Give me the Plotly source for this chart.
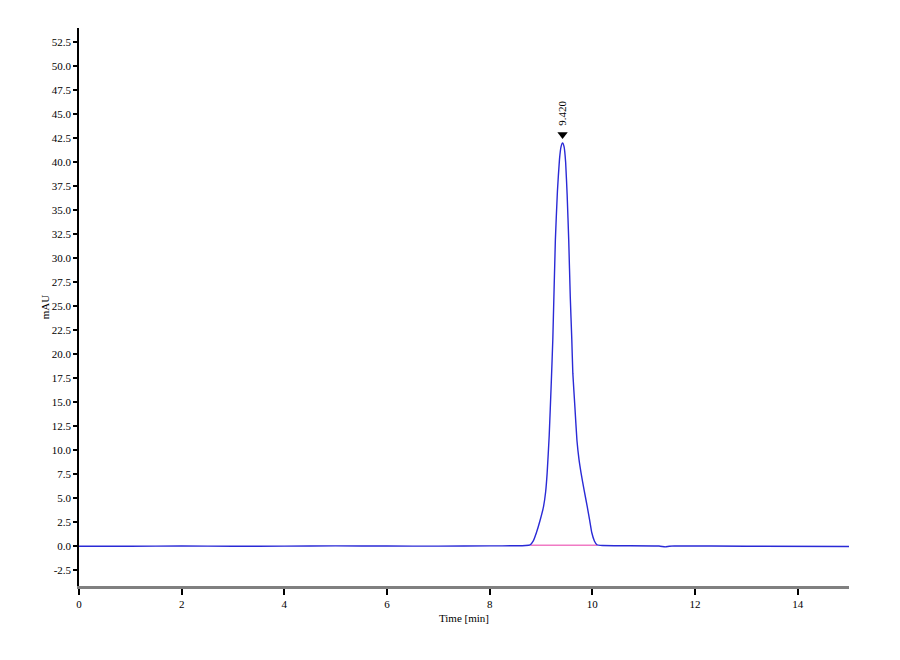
import plotly.graph_objects as go

# Chromatogram trace (time in min, signal in mAU)
time_min = [0.0, 1.0, 2.0, 3.0, 4.0, 5.0, 6.0, 7.0, 8.0, 8.5, 8.70, 8.79, 8.85, 8.91, 8.98,
            9.05, 9.09, 9.12, 9.16, 9.20, 9.23, 9.28, 9.32, 9.36, 9.39, 9.42,
            9.45, 9.48, 9.51, 9.54, 9.57, 9.60, 9.62, 9.66, 9.70, 9.74, 9.78, 9.84,
            9.90, 9.95, 9.99, 10.04, 10.09, 10.2, 11.3, 11.42, 11.5, 11.6, 13.0, 15.0]
signal_mau = [-0.05, -0.05, -0.03, -0.05, -0.04, -0.02, -0.03, -0.04, -0.02, 0.0, 0.03, 0.1, 0.5, 1.35, 2.6,
              4.1, 5.6, 7.6, 11.5, 17.0, 21.5, 31.9, 37.0, 40.3, 41.6, 42.0,
              41.6, 40.0, 36.5, 31.9, 26.0, 21.5, 18.0, 14.5, 11.0, 9.0, 7.6, 5.8,
              4.1, 2.6, 1.35, 0.5, 0.1, 0.02, -0.03, -0.12, -0.05, -0.02, -0.05, -0.08]

# Integration baseline under the peak
baseline_t = [8.8, 10.1]
baseline_y = [0.05, 0.05]

peak_time = 9.42
peak_height = 42.0
peak_label = "9.420"

y_ticks = [-2.5 + 2.5 * i for i in range(23)]
x_ticks = [0, 2, 4, 6, 8, 10, 12, 14]

font_family = "Liberation Serif, Times New Roman, serif"

fig = go.Figure()
fig.add_trace(go.Scatter(x=baseline_t, y=baseline_y, mode="lines",
                         line=dict(color="#f07ac4", width=1.5), hoverinfo="skip"))
fig.add_trace(go.Scatter(x=time_min, y=signal_mau, mode="lines",
                         line=dict(color="#2a2ad6", width=1.4, shape="spline", smoothing=0.4)))
fig.add_trace(go.Scatter(x=[peak_time], y=[peak_height + 0.9], mode="markers",
                         marker=dict(symbol="triangle-down", size=9, color="black")))
fig.add_annotation(x=peak_time, y=peak_height + 1.6, text=peak_label, showarrow=False,
                   textangle=-90, yanchor="bottom", xanchor="center",
                   font=dict(family=font_family, size=11, color="black"))

fig.update_layout(
    width=900, height=660,
    margin=dict(l=71, r=59, t=20, b=82, autoexpand=False),
    paper_bgcolor="white", plot_bgcolor="white",
    showlegend=False,
    font=dict(family=font_family, size=11, color="black"),
    xaxis=dict(range=[0, 15], tickvals=x_ticks, ticktext=[str(v) for v in x_ticks],
               showline=True, linecolor="#808080", linewidth=3,
               ticks="outside", ticklen=6, tickcolor="black", tickwidth=1.5,
               showgrid=False, zeroline=False, automargin=False,
               title=dict(text="Time [min]", font=dict(family=font_family, size=11), standoff=6)),
    yaxis=dict(range=[-4.2, 54.0], tickvals=y_ticks, ticktext=[f"{v:.1f}" for v in y_ticks],
               showline=True, linecolor="black", linewidth=1.5,
               ticks="outside", ticklen=4, tickcolor="black", tickwidth=1.5,
               showgrid=False, zeroline=False, automargin=False,
               title=dict(text="mAU", font=dict(family=font_family, size=11), standoff=0)),
)

fig.write_html("out.html")
